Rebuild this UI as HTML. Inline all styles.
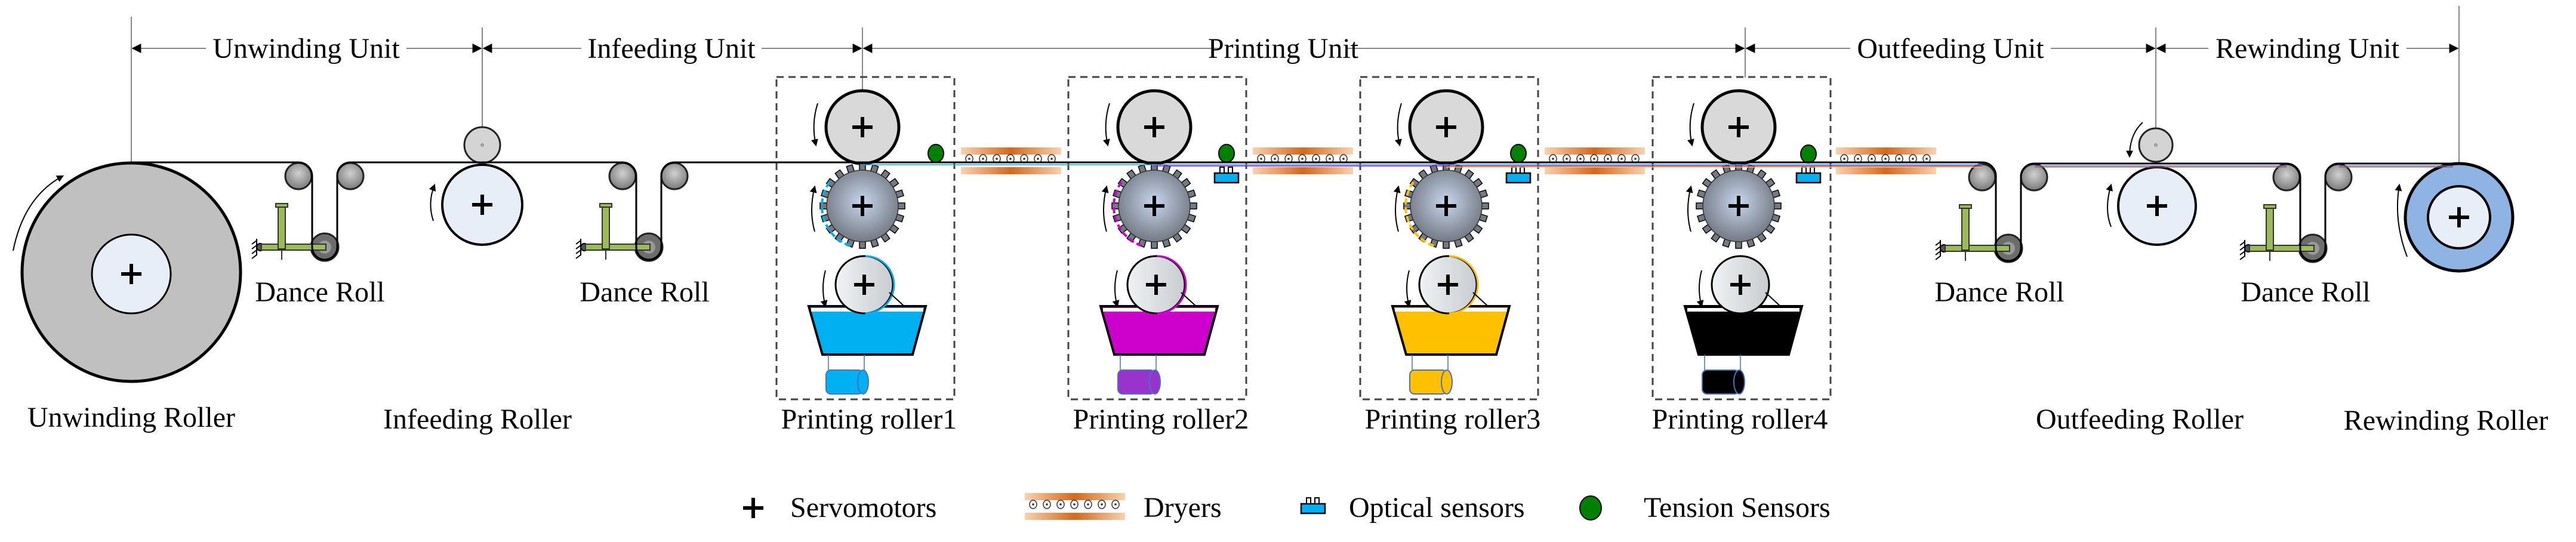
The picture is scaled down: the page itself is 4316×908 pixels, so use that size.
<!DOCTYPE html>
<html><head><meta charset="utf-8"><style>html,body{margin:0;padding:0;background:#fff}svg{display:block}svg text{font-family:"Liberation Serif","DejaVu Serif",serif;font-size:48px}</style></head><body>
<svg width="4316" height="908" viewBox="0 0 4316 908" xmlns="http://www.w3.org/2000/svg" style="font-family:'Liberation Serif',serif">
<defs>
<marker id="ar" viewBox="0 0 10 10" refX="9" refY="5" markerWidth="8" markerHeight="8" orient="auto-start-reverse"><path d="M0,0 L10,5 L0,10 z" fill="#000"/></marker>
<marker id="sa" viewBox="0 0 10 10" refX="8" refY="5" markerWidth="6" markerHeight="6" orient="auto"><path d="M0,0 L10,5 L0,10 z" fill="#000"/></marker>
<radialGradient id="gear" cx="50%" cy="45%" r="55%"><stop offset="0" stop-color="#c8d6ee"/><stop offset="1" stop-color="#747a84"/></radialGradient>
<radialGradient id="idl" cx="50%" cy="40%" r="60%"><stop offset="0" stop-color="#d0d0d0"/><stop offset="1" stop-color="#7a7a7a"/></radialGradient>
<linearGradient id="dry" x1="0" x2="1"><stop offset="0" stop-color="#f8d2b0"/><stop offset="0.5" stop-color="#d2691e"/><stop offset="1" stop-color="#f8d2b0"/></linearGradient>
<linearGradient id="anx" x1="0" x2="1"><stop offset="0" stop-color="#f0f2f4"/><stop offset="1" stop-color="#c8ccd0"/></linearGradient>
<g id="plus"><path d="M-17,0 H17 M0,-17 V17" stroke="#000" stroke-width="6"/></g>
<g id="teeth"><rect x="-5" y="-71" width="10" height="14" fill="#747a84" stroke="#000" stroke-width="1.5"/></g>
<g id="gearg">
<use href="#teeth"/><use href="#teeth" transform="rotate(18)"/><use href="#teeth" transform="rotate(36)"/><use href="#teeth" transform="rotate(54)"/><use href="#teeth" transform="rotate(72)"/><use href="#teeth" transform="rotate(90)"/><use href="#teeth" transform="rotate(108)"/><use href="#teeth" transform="rotate(126)"/><use href="#teeth" transform="rotate(144)"/><use href="#teeth" transform="rotate(162)"/><use href="#teeth" transform="rotate(180)"/><use href="#teeth" transform="rotate(198)"/><use href="#teeth" transform="rotate(216)"/><use href="#teeth" transform="rotate(234)"/><use href="#teeth" transform="rotate(252)"/><use href="#teeth" transform="rotate(270)"/><use href="#teeth" transform="rotate(288)"/><use href="#teeth" transform="rotate(306)"/><use href="#teeth" transform="rotate(324)"/><use href="#teeth" transform="rotate(342)"/>
<circle r="60" fill="url(#gear)" stroke="#333" stroke-width="1.5"/>
<use href="#plus"/>
</g>
<g id="dryer">
<rect x="0" y="0" width="168" height="12" fill="url(#dry)"/>
<rect x="0" y="33" width="168" height="12" fill="url(#dry)"/>
<g fill="#fff" stroke="#333" stroke-width="1.5">
<ellipse cx="14" cy="19" rx="6" ry="7"/><ellipse cx="37" cy="19" rx="6" ry="7"/><ellipse cx="60" cy="19" rx="6" ry="7"/><ellipse cx="83" cy="19" rx="6" ry="7"/><ellipse cx="106" cy="19" rx="6" ry="7"/><ellipse cx="129" cy="19" rx="6" ry="7"/><ellipse cx="152" cy="19" rx="6" ry="7"/></g>
<g fill="#333"><circle cx="14" cy="19" r="1.8"/><circle cx="37" cy="19" r="1.8"/><circle cx="60" cy="19" r="1.8"/><circle cx="83" cy="19" r="1.8"/><circle cx="106" cy="19" r="1.8"/><circle cx="129" cy="19" r="1.8"/><circle cx="152" cy="19" r="1.8"/></g>
</g>
<g id="optical"><rect x="-20" y="8" width="40" height="16" fill="#00b0f0" stroke="#000" stroke-width="2.5"/><rect x="-11" y="-2" width="7" height="10" fill="#fff" stroke="#000" stroke-width="2"/><rect x="3" y="-2" width="7" height="10" fill="#fff" stroke="#000" stroke-width="2"/></g>
<g id="tens"><ellipse rx="13" ry="15" fill="#008000" stroke="#000" stroke-width="2"/></g>
<g id="dance">
<circle cx="0" cy="0" r="22" fill="url(#idl)" stroke="#222" stroke-width="3"/>
<circle cx="87" cy="0" r="22" fill="url(#idl)" stroke="#222" stroke-width="3"/>
<circle cx="44" cy="119" r="23" fill="#6d6d6d" stroke="#222" stroke-width="3"/>
<circle cx="44" cy="119" r="11" fill="#999"/>
<path d="M-70,105 v28 M-70,108 l-8,6 M-70,116 l-8,6 M-70,124 l-8,6 M-70,132 l-8,6" stroke="#000" stroke-width="2"/>
<circle cx="-64" cy="119" r="6" fill="#555" stroke="#000" stroke-width="2"/>
<rect x="-62" y="114" width="108" height="10" fill="#9bbb59" stroke="#333" stroke-width="2"/>
<rect x="-34" y="52" width="12" height="70" fill="#9bbb59" stroke="#333" stroke-width="2"/>
<rect x="-38" y="46" width="20" height="6" fill="#9bbb59" stroke="#333" stroke-width="2"/>
<path d="M-28,122 v18" stroke="#333" stroke-width="2"/>
</g>
<g id="pu">
<rect x="-144" y="-84" width="298" height="540" fill="none" stroke="#444" stroke-width="3" stroke-dasharray="12 8"/>
<circle cx="0" cy="0" r="61" fill="#d9d9d9" stroke="#000" stroke-width="5"/>
<use href="#plus"/>
<path d="M-75,-40 Q-86,-5 -78,30" fill="none" stroke="#000" stroke-width="2" marker-end="url(#sa)"/>
<use href="#gearg" transform="translate(0,132)"/>
<path d="M-80,175 Q-90,140 -80,100" fill="none" stroke="#000" stroke-width="2" marker-end="url(#sa)"/>
<path d="M-62,240 Q-70,270 -62,300" fill="none" stroke="#000" stroke-width="2" marker-end="url(#sa)"/>
</g>
</defs>

<g stroke="#888" stroke-width="2" fill="none">
<path d="M220,28 V272"/><path d="M808,46 V214"/><path d="M1445,46 V152"/><path d="M2924,46 V130"/><path d="M3612,46 V215"/><path d="M4120,10 V272"/>
</g>
<g stroke="#888" stroke-width="2" marker-start="url(#ar)" marker-end="url(#ar)">
<line x1="222" y1="81" x2="806" y2="81"/>
<line x1="810" y1="81" x2="1443" y2="81"/>
<line x1="1447" y1="81" x2="2922" y2="81"/>
<line x1="2926" y1="81" x2="3610" y2="81"/>
<line x1="3614" y1="81" x2="4118" y2="81"/>
</g>
<g text-anchor="middle">
<rect x="345" y="55" width="336" height="50" fill="#fff"/><text x="513" y="97">Unwinding Unit</text>
<rect x="974" y="55" width="302" height="50" fill="#fff"/><text x="1125" y="97">Infeeding Unit</text>
<rect x="2045" y="55" width="210" height="50" fill="#fff"/><text x="2150" y="97">Printing Unit</text>
<rect x="3100" y="55" width="336" height="50" fill="#fff"/><text x="3268" y="97">Outfeeding Unit</text>
<rect x="3700" y="55" width="332" height="50" fill="#fff"/><text x="3866" y="97">Rewinding Unit</text>
</g>

<circle cx="220" cy="456" r="183" fill="#c0c0c0" stroke="#000" stroke-width="5"/>
<circle cx="220" cy="459" r="66" fill="#e8eef8" stroke="#000" stroke-width="3"/>
<use href="#plus" transform="translate(220,459)"/>
<path d="M22,420 Q40,330 105,295" fill="none" stroke="#000" stroke-width="2" marker-end="url(#sa)"/>

<circle cx="808" cy="343" r="67" fill="#e8eef8" stroke="#000" stroke-width="4"/>
<use href="#plus" transform="translate(808,343)"/>
<circle cx="808" cy="243" r="30" fill="#d4d4d4" stroke="#222" stroke-width="3"/>
<circle cx="808" cy="243" r="2" fill="none" stroke="#555"/>
<path d="M726,370 Q716,340 728,310" fill="none" stroke="#000" stroke-width="2" marker-end="url(#sa)"/>

<circle cx="3614" cy="345" r="65" fill="#e8eef8" stroke="#000" stroke-width="4"/>
<use href="#plus" transform="translate(3614,345)"/>
<circle cx="3612" cy="243" r="28" fill="#d4d4d4" stroke="#222" stroke-width="3"/>
<circle cx="3612" cy="243" r="2" fill="none" stroke="#555"/>
<path d="M3537,380 Q3525,350 3537,310" fill="none" stroke="#000" stroke-width="2" marker-end="url(#sa)"/>
<path d="M3590,205 Q3568,225 3568,262" fill="none" stroke="#000" stroke-width="2" marker-end="url(#sa)"/>

<circle cx="4120" cy="364" r="90" fill="#8eb4e3" stroke="#000" stroke-width="5"/>
<circle cx="4120" cy="364" r="52" fill="#e8eef8" stroke="#000" stroke-width="4"/>
<use href="#plus" transform="translate(4120,364)"/>
<path d="M4033,430 Q4010,370 4020,310" fill="none" stroke="#000" stroke-width="2" marker-end="url(#sa)"/>

<use href="#dance" transform="translate(500,295)"/>
<use href="#dance" transform="translate(1043,295)"/>
<use href="#dance" transform="translate(3321,297)"/>
<use href="#dance" transform="translate(3831,297)"/>

<use href="#pu" transform="translate(1445,213)"/>
<use href="#pu" transform="translate(1934,213)"/>
<use href="#pu" transform="translate(2423,213)"/>
<use href="#pu" transform="translate(2913,213)"/>

<g>
<path d="M1355,513 H1551 L1529,594 H1378 Z" fill="#00b0f0" stroke="#000" stroke-width="4"/>
<rect x="1359" y="516" width="188" height="6" fill="#fff"/>
<path d="M1388,594 V628 M1448,594 V622" stroke="#4472c4" stroke-width="1.5"/>
<rect x="1384" y="620" width="62" height="40" rx="8" fill="#00b0f0" stroke="#4472c4" stroke-width="2"/>
<ellipse cx="1446" cy="640" rx="9" ry="20" fill="#00b0f0" stroke="#4472c4" stroke-width="2"/>
<circle cx="1448" cy="477" r="48" fill="url(#anx)" stroke="#000" stroke-width="3"/>
<path d="M1450,429 A48,48 0 0 1 1450,525" fill="none" stroke="#00b0f0" stroke-width="3"/>
<path d="M1490,490 L1515,513" stroke="#000" stroke-width="2"/>
<path d="M1390,305 A70,70 0 0 0 1425,412" fill="none" stroke="#00b0f0" stroke-width="4" stroke-dasharray="10 5"/>
<use href="#plus" transform="translate(1448,477)"/>
</g>
<g>
<path d="M1844,513 H2040 L2018,594 H1867 Z" fill="#cc00cc" stroke="#000" stroke-width="4"/>
<rect x="1848" y="516" width="188" height="6" fill="#fff"/>
<path d="M1877,594 V628 M1937,594 V622" stroke="#4472c4" stroke-width="1.5"/>
<rect x="1873" y="620" width="62" height="40" rx="8" fill="#9933cc" stroke="#4472c4" stroke-width="2"/>
<ellipse cx="1935" cy="640" rx="9" ry="20" fill="#9933cc" stroke="#4472c4" stroke-width="2"/>
<circle cx="1937" cy="477" r="48" fill="url(#anx)" stroke="#000" stroke-width="3"/>
<path d="M1939,429 A48,48 0 0 1 1939,525" fill="none" stroke="#cc00cc" stroke-width="3"/>
<path d="M1979,490 L2004,513" stroke="#000" stroke-width="2"/>
<path d="M1879,305 A70,70 0 0 0 1914,412" fill="none" stroke="#cc00cc" stroke-width="4" stroke-dasharray="10 5"/>
<use href="#plus" transform="translate(1937,477)"/>
</g>
<g>
<path d="M2333,513 H2529 L2507,594 H2356 Z" fill="#ffc000" stroke="#000" stroke-width="4"/>
<rect x="2337" y="516" width="188" height="6" fill="#fff"/>
<path d="M2366,594 V628 M2426,594 V622" stroke="#4472c4" stroke-width="1.5"/>
<rect x="2362" y="620" width="62" height="40" rx="8" fill="#ffc000" stroke="#4472c4" stroke-width="2"/>
<ellipse cx="2424" cy="640" rx="9" ry="20" fill="#ffc000" stroke="#4472c4" stroke-width="2"/>
<circle cx="2426" cy="477" r="48" fill="url(#anx)" stroke="#000" stroke-width="3"/>
<path d="M2428,429 A48,48 0 0 1 2428,525" fill="none" stroke="#ffc000" stroke-width="3"/>
<path d="M2468,490 L2493,513" stroke="#000" stroke-width="2"/>
<path d="M2368,305 A70,70 0 0 0 2403,412" fill="none" stroke="#ffc000" stroke-width="4" stroke-dasharray="10 5"/>
<use href="#plus" transform="translate(2426,477)"/>
</g>
<g>
<path d="M2823,513 H3019 L2997,594 H2846 Z" fill="#000" stroke="#000" stroke-width="4"/>
<rect x="2827" y="516" width="188" height="6" fill="#fff"/>
<path d="M2856,594 V628 M2916,594 V622" stroke="#4472c4" stroke-width="1.5"/>
<rect x="2852" y="620" width="62" height="40" rx="8" fill="#000" stroke="#4472c4" stroke-width="2"/>
<ellipse cx="2914" cy="640" rx="9" ry="20" fill="#000" stroke="#4472c4" stroke-width="2"/>
<circle cx="2916" cy="477" r="48" fill="url(#anx)" stroke="#000" stroke-width="3"/>
<path d="M2958,490 L2983,513" stroke="#000" stroke-width="2"/>
<use href="#plus" transform="translate(2916,477)"/>
</g>

<use href="#dryer" transform="translate(1610,247)"/>
<use href="#dryer" transform="translate(2099,247)"/>
<use href="#dryer" transform="translate(2588,247)"/>
<use href="#dryer" transform="translate(3076,247)"/>
<use href="#tens" transform="translate(1568,257)"/>
<use href="#tens" transform="translate(2055,257)"/>
<use href="#tens" transform="translate(2544,257)"/>
<use href="#tens" transform="translate(3030,258)"/>
<use href="#optical" transform="translate(2055,282)"/>
<use href="#optical" transform="translate(2544,282)"/>
<use href="#optical" transform="translate(3030,282)"/>

<path d="M220,272 H500 A23,23 0 0 1 523,295 V414 A21,21 0 0 0 565,414 V295 A22,22 0 0 1 587,272 H1043 A23,23 0 0 1 1066,295 V414 A21,21 0 0 0 1108,414 V295 A22,22 0 0 1 1130,272 H3321 A23,23 0 0 1 3344,297 V416 A21,21 0 0 0 3386,416 V297 A22,22 0 0 1 3409,274 H3831 A23,23 0 0 1 3854,297 V416 A21,21 0 0 0 3896,416 V297 A22,22 0 0 1 3919,274 H4120" fill="none" stroke="#000" stroke-width="3"/>
<path d="M1445,276 H3321" stroke="#00b0f0" stroke-width="1.6"/>
<path d="M1934,278 H3321" stroke="#cc00cc" stroke-width="1.6"/>
<path d="M2423,280 H3321" stroke="#ffc000" stroke-width="1.6"/>
<path d="M3409,278 H3831 M3919,278 H4110" stroke="#4472c4" stroke-width="1.6"/>
<path d="M3409,280 H3831 M3919,280 H4110" stroke="#c0504d" stroke-width="1.2"/>

<g text-anchor="middle">
<text x="220" y="715">Unwinding Roller</text>
<text x="536" y="505">Dance Roll</text>
<text x="1080" y="505">Dance Roll</text>
<text x="3350" y="505">Dance Roll</text>
<text x="3863" y="505">Dance Roll</text>
<text x="800" y="718">Infeeding Roller</text>
<text x="1456" y="718">Printing roller1</text>
<text x="1945" y="718">Printing roller2</text>
<text x="2434" y="718">Printing roller3</text>
<text x="2915" y="718">Printing roller4</text>
<text x="3585" y="718">Outfeeding Roller</text>
<text x="4098" y="720">Rewinding Roller</text>
</g>

<use href="#plus" transform="translate(1262,851)"/>
<text x="1324" y="866">Servomotors</text>
<use href="#dryer" transform="translate(1717,826)"/>
<text x="1916" y="866">Dryers</text>
<use href="#optical" transform="translate(2200,836)"/>
<text x="2260" y="866">Optical sensors</text>
<ellipse cx="2665" cy="851" rx="18" ry="20" fill="#008000" stroke="#000" stroke-width="2"/>
<text x="2754" y="866">Tension Sensors</text>
</svg>
</body></html>
